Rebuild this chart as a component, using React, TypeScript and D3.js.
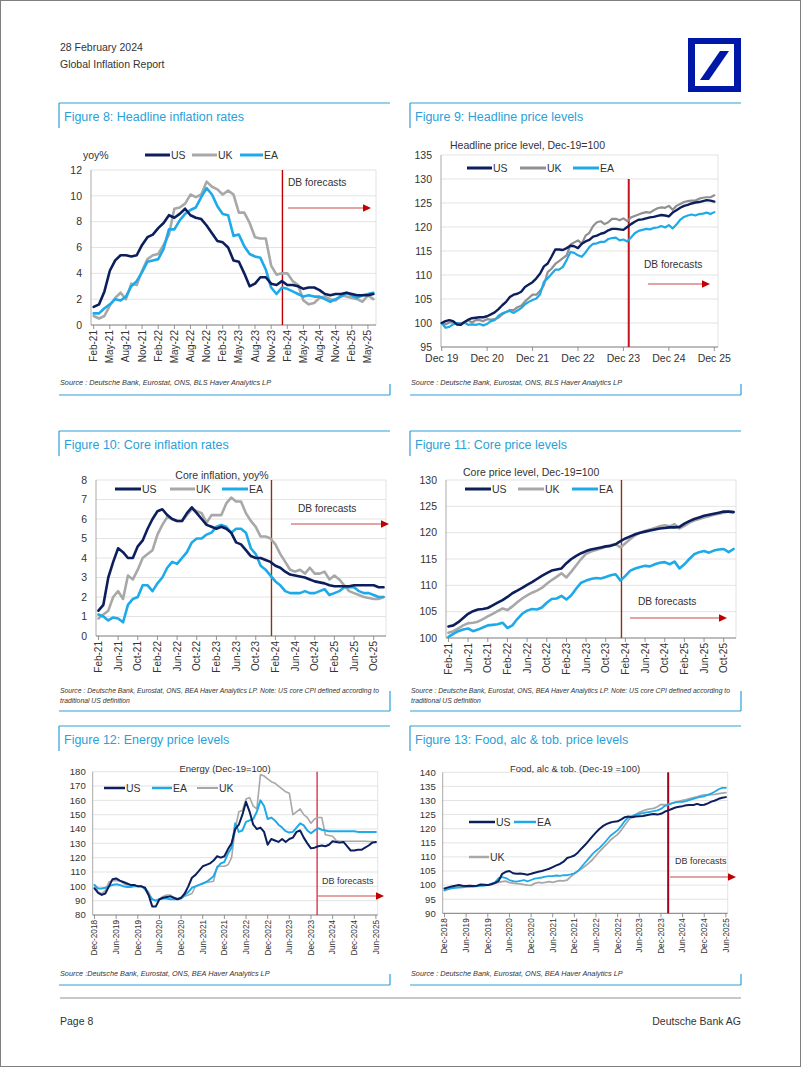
import React from 'react';
import * as d3 from 'd3';

// ---------- categories ----------
const MON = ['Jan', 'Feb', 'Mar', 'Apr', 'May', 'Jun', 'Jul', 'Aug', 'Sep', 'Oct', 'Nov', 'Dec'];
function months(year: number, month: number, n: number, fmt: (m: string, y: number) => string): string[] {
  const out: string[] = [];
  for (let i = 0; i < n; i++) {
    const mm = (month + i) % 12;
    const yy = year + Math.floor((month + i) / 12);
    out.push(fmt(MON[mm], yy));
  }
  return out;
}
const fmtShort = (m: string, y: number) => `${m}-${String(y % 100).padStart(2, '0')}`;
const fmtSpace = (m: string, y: number) => `${m} ${String(y % 100).padStart(2, '0')}`;
const fmtLong = (m: string, y: number) => `${m}-${y}`;

const CAT_8 = months(2021, 1, 53, fmtShort); // Feb-21 .. Jun-25
const TICKS_8 = CAT_8.filter((_, i) => i % 3 === 0);
const CAT_9 = months(2019, 11, 73, fmtSpace); // Dec 19 .. Dec 25
const TICKS_9 = CAT_9.filter((_, i) => i % 12 === 0);
const CAT_10 = months(2021, 1, 59, fmtShort); // Feb-21 .. Dec-25
const TICKS_10 = CAT_10.filter((_, i) => i % 4 === 0);
const CAT_12 = months(2018, 11, 79, fmtLong); // Dec-2018 .. Jun-2025
const TICKS_12 = CAT_12.filter((_, i) => i % 6 === 0);

// ---------- Figure 8: headline inflation, yoy% ----------
const US_8 = [1.4,1.6,2.6,4.2,5.0,5.4,5.4,5.3,5.4,6.2,6.8,7.0,7.5,7.9,8.5,8.3,8.6,9.0,8.5,8.3,8.2,7.7,7.1,6.5,6.4,6.0,5.0,4.9,4.0,3.0,3.2,3.7,3.7,3.2,3.1,3.4,3.1,3.1,3.0,2.8,2.9,2.9,2.7,2.4,2.3,2.4,2.4,2.5,2.4,2.3,2.3,2.3,2.4];
const UK_8 = [0.7,0.5,0.7,1.5,2.1,2.5,2.0,3.2,3.1,4.2,5.1,5.4,5.5,6.2,7.0,9.0,9.1,9.4,10.1,9.9,10.1,11.1,10.7,10.5,10.1,10.4,10.1,8.7,8.7,7.9,6.8,6.7,6.7,4.6,3.9,4.0,4.0,3.4,3.1,1.9,1.6,1.7,2.1,2.2,2.0,1.9,2.3,2.2,2.1,2.0,1.8,2.3,2.0];
const EA_8 = [0.9,0.9,1.3,1.6,2.0,1.9,2.2,3.0,3.4,4.1,4.9,5.0,5.1,5.9,7.4,7.4,8.1,8.6,8.9,9.1,9.9,10.6,10.1,9.2,8.6,8.5,6.9,7.0,6.1,5.5,5.3,5.2,4.3,2.9,2.4,2.9,2.8,2.6,2.4,2.2,2.3,2.2,2.2,2.0,1.8,2.0,2.2,2.5,2.3,2.1,2.3,2.4,2.5];
const Y_TICKS_8 = [0, 2, 4, 6, 8, 10, 12];

// ---------- Figure 9: headline price level ----------
const US_9 = [100.0,
  100.4,100.6,100.4,99.7,99.6,100.2,100.7,101.0,101.1,101.2,101.2,101.4,
  101.8,102.2,102.9,103.7,104.4,105.4,105.9,106.1,106.5,107.5,108.0,108.5,
  109.3,110.3,111.8,112.4,113.8,115.3,115.3,115.2,115.6,116.1,116.0,115.6,
  116.5,117.0,117.3,118.0,118.2,118.6,118.8,119.3,119.6,119.6,119.5,119.4,
  120.0,120.6,121.1,121.5,121.6,121.8,122.0,122.1,122.3,122.5,122.4,122.2,
  123.0,123.5,124.0,124.4,124.6,124.9,125.1,125.2,125.4,125.6,125.5,125.3];
const UK_9 = [100.0,
  99.7,100.1,100.1,100.0,100.0,100.1,100.6,100.1,100.6,100.6,100.4,100.8,
  100.7,100.8,101.1,101.8,102.3,102.7,102.7,103.3,103.6,104.5,105.2,105.9,
  105.9,106.7,107.9,110.6,111.3,112.3,112.9,113.5,114.1,116.3,116.8,117.2,
  116.5,118.2,118.8,120.2,121.0,121.2,120.6,121.0,121.7,121.7,121.4,121.8,
  121.2,122.0,122.3,122.6,122.9,123.1,123.0,123.5,123.9,124.1,124.0,124.4,
  123.6,124.4,124.8,125.2,125.4,125.5,125.5,125.9,126.1,126.2,126.2,126.6];
const EA_9 = [100.0,
  99.0,99.2,99.7,100.0,99.8,100.1,99.6,99.7,99.6,99.8,99.5,99.8,
  100.4,100.6,101.5,102.0,102.3,102.5,102.1,102.6,103.1,103.9,104.4,104.8,
  105.1,106.0,108.6,109.3,110.2,111.1,111.1,111.7,113.1,114.8,114.6,114.1,
  113.8,114.7,115.8,116.5,116.6,116.9,116.9,117.5,117.7,117.8,117.2,117.4,
  117.0,117.8,118.7,119.2,119.4,119.6,119.5,119.8,119.9,120.2,119.9,120.4,
  119.7,120.5,121.5,122.1,122.4,122.6,122.4,122.7,122.8,123.0,122.7,123.1];
const Y_TICKS_9 = [95, 100, 105, 110, 115, 120, 125, 130, 135];

// ---------- Figure 10: core inflation, yoy% ----------
const US_10 = [1.3,1.6,3.0,3.8,4.5,4.3,4.0,4.0,4.6,4.9,5.5,6.0,6.4,6.5,6.2,6.0,5.9,5.9,6.3,6.6,6.3,6.0,5.7,5.6,5.5,5.6,5.5,5.3,4.8,4.7,4.4,4.1,4.0,4.0,3.9,3.8,3.6,3.5,3.3,3.15,3.1,3.05,3.0,2.9,2.8,2.75,2.7,2.6,2.55,2.55,2.55,2.55,2.6,2.6,2.6,2.6,2.6,2.5,2.5];
const UK_10 = [0.9,1.1,1.3,2.0,2.3,1.9,3.1,2.9,3.4,4.0,4.2,4.4,5.2,5.7,6.1,6.0,5.9,5.9,6.2,6.5,6.4,6.3,5.8,6.2,6.2,6.2,6.8,7.1,6.9,6.9,6.3,5.9,5.6,5.1,5.1,5.0,4.7,4.2,3.8,3.4,3.3,3.4,3.2,3.5,3.2,3.2,3.3,2.9,3.1,2.9,2.6,2.3,2.2,2.1,2.0,1.95,1.9,1.9,2.0];
const EA_10 = [1.1,1.0,0.8,0.95,0.9,0.7,1.6,1.9,2.0,2.6,2.6,2.3,2.7,3.0,3.5,3.8,3.7,4.0,4.3,4.8,5.0,5.0,5.2,5.3,5.6,5.7,5.6,5.3,5.5,5.5,5.3,4.5,4.2,3.6,3.4,3.1,2.8,2.6,2.3,2.2,2.2,2.2,2.3,2.2,2.2,2.3,2.4,2.1,2.2,2.3,2.5,2.5,2.5,2.3,2.2,2.2,2.1,2.0,2.0];
const Y_TICKS_10 = [0, 1, 2, 3, 4, 5, 6, 7, 8];

// ---------- Figure 11: core price level ----------
const US_11 = [102.2,102.4,103.0,103.8,104.6,105.1,105.4,105.5,105.7,106.2,106.7,107.2,107.8,108.5,109.0,109.5,110.1,110.6,111.2,111.8,112.3,112.8,113.0,113.2,114.2,115.0,115.6,116.1,116.5,116.8,117.0,117.2,117.4,117.5,117.8,118.4,118.9,119.3,119.7,120.0,120.2,120.4,120.6,120.8,120.9,121.0,121.0,121.1,121.7,122.2,122.6,122.9,123.2,123.4,123.6,123.8,124.0,124.0,123.9];
const UK_11 = [101.0,101.3,101.8,102.4,102.8,102.9,103.1,103.6,104.1,104.6,105.1,105.6,105.3,106.0,106.8,107.5,108.1,108.6,109.0,109.5,110.3,111.0,111.6,112.3,111.5,112.6,113.8,115.0,116.0,116.4,116.7,117.0,117.3,117.6,117.8,117.2,118.0,118.8,119.5,120.0,120.3,120.6,120.9,121.2,121.4,121.2,121.6,120.8,121.3,121.9,122.3,122.6,122.9,123.1,123.4,123.6,123.8,124.0,123.9];
const EA_11 = [100.2,100.8,101.3,101.6,101.8,101.3,101.6,102.0,102.4,102.5,102.6,102.9,101.9,102.4,103.6,104.6,105.2,105.5,105.4,105.8,106.7,107.4,107.5,108.0,107.3,108.1,109.4,110.5,110.9,111.2,111.4,111.3,111.6,111.9,112.1,110.9,111.8,112.8,113.2,113.5,113.7,113.6,114.0,114.3,114.4,114.0,114.5,113.2,114.0,115.0,115.9,116.3,116.5,116.2,116.6,116.8,116.9,116.3,116.9];
const Y_TICKS_11 = [100, 105, 110, 115, 120, 125, 130];

// ---------- Figure 12: energy price levels ----------
const US_12 = [98.6,95.5,94,95,100,105,105.5,104,103,102,101,101,100,100,99,94,86,86,91,92,92.5,93,92,91,92,95,100,106,108,111,114,115,116,118,121,120,121,126,130,140,143,150,159,152,143,140,141,138,129,133,132,131,133,131,133,134,138,139,134,130,126.5,127,128,128.5,128,129,131.5,131,130.5,131,128,125,125,125.5,125.5,127,128.5,130.5,131];
const EA_12 = [101,98.5,98.5,99,100,101,101.5,101,100,99.5,99.5,100,100,100,98,94,91,90,91,91.5,91.5,91,91,91,91.5,94,96,99,100,101,102,103,105,107,113,116,117,123,127,144,138,139,145,146,147,152,160,156,147,148,146,143,141,138.5,137.5,138,141,144,142.5,139,137,139,140.5,139.5,139,138.5,138.5,138.5,138.5,138.5,138.5,138.5,138.5,138,138,138,138,138,138];
const UK_12 = [101,96,95,97,103,104,104,104,102,101,101,101,100,100,99,96,91,90,91,93,94,94,92,91.5,92,93,94,95,100,101,102,103,103,103.5,114,114,114,115,120,140,152,153,161,162,156,154,178,177,175,173,172,170,168,166,165,150,152,154,150,148,144,147,148,148,136,135.5,135,132,131.5,131.5,131.5,131.5,131.5,131.5,131.5,131.5,131.3,131.2,131];
const Y_TICKS_12 = [80, 90, 100, 110, 120, 130, 140, 150, 160, 170, 180];

// ---------- Figure 13: food, alcohol & tobacco price levels ----------
const US_13 = [98.8,99.2,99.5,99.8,100.0,99.8,99.7,99.8,99.7,99.8,100.2,100.1,100.0,100.3,100.8,101.5,104.0,104.7,105.0,104.2,104.0,104.1,103.9,103.7,104.0,104.4,104.7,105.0,105.4,105.8,106.4,107.0,107.5,108.3,109.6,110.0,110.5,111.6,113.0,114.3,115.8,117.3,118.7,120.0,121.0,121.7,122.2,122.5,122.6,123.3,124.1,124.3,124.1,124.3,124.4,124.5,124.8,125.0,125.2,125.0,125.3,126.0,126.5,127.0,127.5,127.8,128.0,128.3,128.4,128.4,128.8,128.4,128.5,129.0,129.6,130.0,130.6,131.0,131.2];
const EA_13 = [98.2,98.6,98.8,99.0,99.1,99.2,99.4,99.5,99.6,99.6,99.7,99.8,100.0,100.5,101.0,102.5,102.8,102.5,101.8,101.4,101.2,101.5,101.8,101.3,101.8,102.3,102.5,102.7,103.0,103.2,103.2,103.4,103.3,103.5,103.5,103.8,104.2,105.0,106.5,108.0,109.5,111.0,112.2,113.2,114.5,116.0,117.5,118.5,119.5,121.0,122.8,124.0,124.5,125.0,125.3,125.5,125.8,126.0,126.2,126.5,127.0,128.0,128.5,129.0,129.3,129.5,129.5,129.8,130.2,130.6,131.0,131.3,131.5,132.0,132.5,133.2,134.0,134.5,134.5];
const UK_13 = [98.0,98.6,99.0,99.2,99.4,99.4,99.6,99.6,99.5,99.7,99.8,99.9,100.0,100.3,100.6,101.0,101.2,101.4,100.9,100.7,100.5,100.4,100.2,100.0,99.9,100.6,101.0,100.8,101.0,101.2,101.0,101.3,101.6,101.5,101.8,103.0,104.0,105.0,105.8,106.8,107.8,109.0,110.5,112.0,113.3,114.5,116.0,117.0,118.0,119.5,121.3,123.0,124.3,125.0,125.8,126.3,126.8,127.0,127.2,127.8,128.6,128.4,128.6,129.0,129.4,129.7,130.0,130.3,130.7,131.0,131.3,131.7,132.0,132.0,132.1,132.2,132.4,132.6,132.8];
const Y_TICKS_13 = [90, 95, 100, 105, 110, 115, 120, 125, 130, 135, 140];

// ---------- styles ----------
const FONT = '"Liberation Sans", Arial, Helvetica, sans-serif';
const NAVY = '#0c1f5c';
const GREY = '#a8a8a8';
const GREY_DARK = '#909090';
const CYAN = '#1eaae9';
const TITLE_BLUE = '#2a9fd8';
const TEXT = '#333333';
const GRID = '#dcdcdc';

type Series = { name: string; values: number[]; color: string; width: number };
type ChartCfg = {
  cats: string[];
  ticks: string[];
  mode: 'band' | 'point';
  left: number;
  right: number;
  top: number;
  bottom: number;
  pointRange?: [number, number];
  yDomain: [number, number];
  yTicks: number[];
  series: Series[];
  rotate: boolean;
  xFont: number;
  yFont: number;
  yGap: number;
  vline: { cat: string; offset: number; color: string; width: number; fromValue?: number };
};

function Chart({ cfg }: { cfg: ChartCfg }) {
  const { cats, ticks, mode, left, right, top, bottom, yDomain, yTicks, series, rotate, xFont, yFont, yGap, vline } = cfg;
  let xPos: (c: string) => number;
  let step: number;
  if (mode === 'band') {
    const b = d3.scaleBand<string>().domain(cats).range([left, right]).padding(0);
    step = b.bandwidth();
    xPos = (c) => (b(c) as number) + step / 2;
  } else {
    const p = d3.scalePoint<string>().domain(cats).range(cfg.pointRange as [number, number]).padding(0);
    step = p.step();
    xPos = (c) => p(c) as number;
  }
  const y = d3.scaleLinear().domain(yDomain).range([bottom, top]);
  const line = d3.line<number>().x((_, i) => xPos(cats[i])).y((v) => y(v));
  const vx = xPos(vline.cat) + vline.offset * step;
  const vTop = vline.fromValue !== undefined ? y(vline.fromValue) : top;
  return (
    <g>
      {yTicks.slice(1).map((t) => (
        <line key={'g' + t} x1={left} x2={right} y1={y(t)} y2={y(t)} stroke={GRID} strokeWidth={0.8} />
      ))}
      <line x1={right} x2={right} y1={top} y2={bottom} stroke={GRID} strokeWidth={0.8} />
      <line x1={left} x2={left} y1={top} y2={bottom} stroke="#a0a0a0" strokeWidth={0.9} />
      <line x1={left} x2={right} y1={bottom} y2={bottom} stroke="#7a7a7a" strokeWidth={1} />
      {ticks.map((c) => (
        <line key={'t' + c} x1={xPos(c)} x2={xPos(c)} y1={bottom} y2={bottom + 4} stroke="#7a7a7a" strokeWidth={0.8} />
      ))}
      {yTicks.map((t) => (
        <text key={'y' + t} x={left - yGap} y={y(t)} dy="0.35em" textAnchor="end" fontSize={yFont} fill={TEXT}>
          {t}
        </text>
      ))}
      {ticks.map((c) =>
        rotate ? (
          <text
            key={'x' + c}
            transform={`translate(${xPos(c)},${bottom + 5}) rotate(-90)`}
            dy="0.35em"
            textAnchor="end"
            fontSize={xFont}
            fill={TEXT}
          >
            {c}
          </text>
        ) : (
          <text key={'x' + c} x={xPos(c)} y={bottom + 15} textAnchor="middle" fontSize={xFont} fill={TEXT}>
            {c}
          </text>
        )
      )}
      <line x1={vx} x2={vx} y1={vTop} y2={bottom} stroke={vline.color} strokeWidth={vline.width} />
      {series.map((s) => (
        <path
          key={s.name}
          d={line(s.values) as string}
          fill="none"
          stroke={s.color}
          strokeWidth={s.width}
          strokeLinejoin="round"
          strokeLinecap="round"
        />
      ))}
    </g>
  );
}

function Legend({ items }: { items: { label: string; color: string; x: number; y: number; len: number; w?: number }[] }) {
  return (
    <g>
      {items.map((it) => (
        <g key={it.label}>
          <line x1={it.x} x2={it.x + it.len} y1={it.y} y2={it.y} stroke={it.color} strokeWidth={it.w ?? 3} />
          <text x={it.x + it.len + 1} y={it.y} dy="0.36em" fontSize={10.5} fill={TEXT}>
            {it.label}
          </text>
        </g>
      ))}
    </g>
  );
}

function Forecast({ tx, ty, ax0, ax1, ay, size }: { tx: number; ty: number; ax0: number; ax1: number; ay: number; size: number }) {
  return (
    <g>
      <text x={tx} y={ty} dy="0.35em" fontSize={size} fill={TEXT}>
        DB forecasts
      </text>
      <line x1={ax0} x2={ax1 - 6} y1={ay} y2={ay} stroke="#c94a4a" strokeWidth={1.1} />
      <polygon points={`${ax1},${ay} ${ax1 - 8},${ay - 3.8} ${ax1 - 8},${ay + 3.8}`} fill="#c00000" />
    </g>
  );
}

function Frame({ x0, x1, top, bottom, title, sources, srcY, srcSize }: { x0: number; x1: number; top: number; bottom: number; title: string; sources: string[]; srcY: number; srcSize: number }) {
  return (
    <g>
      <line x1={x0} x2={x1} y1={top} y2={top} stroke={TITLE_BLUE} strokeWidth={1.2} />
      <line x1={x0} x2={x0} y1={top} y2={top + 25} stroke={TITLE_BLUE} strokeWidth={1.2} />
      <text x={x0 + 5} y={top + 18} fontSize={12.5} fill={TITLE_BLUE}>
        {title}
      </text>
      {sources.map((s, i) => (
        <text key={i} x={x0 + 1} y={srcY + i * 9.5} fontSize={srcSize} fontStyle="italic" fill={TEXT}>
          {s}
        </text>
      ))}
      <line x1={x0} x2={x1} y1={bottom} y2={bottom} stroke={TITLE_BLUE} strokeWidth={1} />
      <line x1={x1} x2={x1} y1={bottom - (sources.length > 1 ? 20 : 11)} y2={bottom} stroke={TITLE_BLUE} strokeWidth={1.2} />
    </g>
  );
}

const SRC_A = 'Source : Deutsche Bank, Eurostat, ONS, BLS Haver Analytics LP';
const SRC_B1 = 'Source : Deutsche Bank, Eurostat, ONS, BEA Haver Analytics LP. Note: US core CPI defined according to';
const SRC_B2 = 'traditional US definition';

export default function App() {
  const fig8: ChartCfg = {
    cats: CAT_8, ticks: TICKS_8, mode: 'band', left: 91, right: 376, top: 170, bottom: 325,
    yDomain: [0, 12], yTicks: Y_TICKS_8, rotate: true, xFont: 10, yFont: 10.5, yGap: 9,
    series: [
      { name: 'UK', values: UK_8, color: GREY, width: 2.6 },
      { name: 'EA', values: EA_8, color: CYAN, width: 2.6 },
      { name: 'US', values: US_8, color: NAVY, width: 2.6 },
    ],
    vline: { cat: 'Jan-24', offset: 0.1, color: '#c00000', width: 1.4 },
  };
  const fig9: ChartCfg = {
    cats: CAT_9, ticks: TICKS_9, mode: 'point', left: 441, right: 718, top: 155, bottom: 347,
    pointRange: [441.7, 714.3],
    yDomain: [95, 135], yTicks: Y_TICKS_9, rotate: false, xFont: 10.5, yFont: 10.5, yGap: 9,
    series: [
      { name: 'UK', values: UK_9, color: GREY_DARK, width: 2.2 },
      { name: 'EA', values: EA_9, color: CYAN, width: 2.2 },
      { name: 'US', values: US_9, color: NAVY, width: 2.4 },
    ],
    vline: { cat: 'Jan 24', offset: 0.4, color: '#c0141e', width: 2, fromValue: 130 },
  };
  const fig10: ChartCfg = {
    cats: CAT_10, ticks: TICKS_10, mode: 'band', left: 96, right: 386, top: 480, bottom: 636,
    yDomain: [0, 8], yTicks: Y_TICKS_10, rotate: true, xFont: 10, yFont: 10.5, yGap: 9,
    series: [
      { name: 'UK', values: UK_10, color: GREY, width: 2.6 },
      { name: 'EA', values: EA_10, color: CYAN, width: 2.6 },
      { name: 'US', values: US_10, color: NAVY, width: 2.6 },
    ],
    vline: { cat: 'Jan-24', offset: 0.2, color: '#8a3512', width: 1.4 },
  };
  const fig11: ChartCfg = {
    cats: CAT_10, ticks: TICKS_10, mode: 'band', left: 446, right: 736, top: 480, bottom: 638,
    yDomain: [100, 130], yTicks: Y_TICKS_11, rotate: true, xFont: 10, yFont: 10.5, yGap: 9,
    series: [
      { name: 'UK', values: UK_11, color: GREY, width: 2.6 },
      { name: 'EA', values: EA_11, color: CYAN, width: 2.6 },
      { name: 'US', values: US_11, color: NAVY, width: 2.6 },
    ],
    vline: { cat: 'Jan-24', offset: 0.2, color: '#8a3512', width: 1.4 },
  };
  const fig12: ChartCfg = {
    cats: CAT_12, ticks: TICKS_12, mode: 'band', left: 92.7, right: 377.7, top: 771.7, bottom: 915,
    yDomain: [80, 180], yTicks: Y_TICKS_12, rotate: true, xFont: 8.2, yFont: 9.5, yGap: 7,
    series: [
      { name: 'UK', values: UK_12, color: GREY, width: 1.6 },
      { name: 'EA', values: EA_12, color: CYAN, width: 2 },
      { name: 'US', values: US_12, color: NAVY, width: 2 },
    ],
    vline: { cat: 'Feb-2024', offset: -0.3, color: '#d0021b', width: 1.1 },
  };
  const fig13: ChartCfg = {
    cats: CAT_12, ticks: TICKS_12, mode: 'band', left: 442.7, right: 727.7, top: 772.3, bottom: 913.3,
    yDomain: [90, 140], yTicks: Y_TICKS_13, rotate: true, xFont: 8.2, yFont: 9.5, yGap: 7,
    series: [
      { name: 'UK', values: UK_13, color: GREY, width: 1.8 },
      { name: 'EA', values: EA_13, color: CYAN, width: 1.8 },
      { name: 'US', values: US_13, color: NAVY, width: 2 },
    ],
    vline: { cat: 'Feb-2024', offset: 0, color: '#a3001b', width: 2 },
  };

  return (
    <svg
      width={802}
      height={1068}
      viewBox="0 0 802 1068"
      style={{ position: 'absolute', left: 0, top: 0, background: '#fff' }}
      fontFamily={FONT}
    >
      <rect x={0} y={0} width={802} height={1068} fill="#fff" />
      <rect x={0.5} y={0.5} width={800} height={1066} fill="none" stroke="#7f7f7f" strokeWidth={1} />

      {/* header */}
      <text x={60} y={51} fontSize={10.5} fill={TEXT}>28 February 2024</text>
      <text x={60} y={68} fontSize={10.5} fill={TEXT}>Global Inflation Report</text>
      <rect x={688} y={38} width={53} height={54} fill="#0018a8" />
      <rect x={695} y={44} width={39} height={42} fill="#fff" />
      <polygon points="700,80 709,80 729,51 720,51" fill="#0018a8" />

      {/* frames */}
      <Frame x0={59} x1={390} top={103} bottom={395} title="Figure 8: Headline inflation rates" sources={[SRC_A]} srcY={385} srcSize={7.3} />
      <Frame x0={410} x1={741} top={103} bottom={395} title="Figure 9: Headline price levels" sources={[SRC_A]} srcY={385} srcSize={7.3} />
      <Frame x0={59} x1={390} top={431} bottom={711} title="Figure 10: Core inflation rates" sources={[SRC_B1, SRC_B2]} srcY={693} srcSize={6.8} />
      <Frame x0={410} x1={741} top={431} bottom={711} title="Figure 11: Core price levels" sources={[SRC_B1, SRC_B2]} srcY={693} srcSize={6.8} />
      <Frame x0={59} x1={390} top={726} bottom={985} title="Figure 12: Energy price levels" sources={['Source :Deutsche Bank, Eurostat, ONS, BEA Haver Analytics LP']} srcY={976} srcSize={7.3} />
      <Frame x0={410} x1={741} top={726} bottom={985} title="Figure 13: Food, alc & tob. price levels" sources={['Source : Deutsche Bank, Eurostat, ONS, BEA Haver Analytics LP']} srcY={976} srcSize={7.3} />

      {/* Figure 8 */}
      <Chart cfg={fig8} />
      <text x={83} y={155} dy="0.35em" fontSize={10.5} fill={TEXT}>yoy%</text>
      <Legend items={[
        { label: 'US', color: NAVY, x: 145, y: 155, len: 25 },
        { label: 'UK', color: GREY, x: 192, y: 155, len: 25 },
        { label: 'EA', color: CYAN, x: 240, y: 155, len: 23 },
      ]} />
      <Forecast tx={288} ty={182} ax0={288} ax1={371} ay={208} size={10.2} />

      {/* Figure 9 */}
      <Chart cfg={fig9} />
      <text x={450} y={145} dy="0.35em" fontSize={10.5} fill={TEXT}>Headline price level, Dec-19=100</text>
      <Legend items={[
        { label: 'US', color: NAVY, x: 467, y: 168, len: 25 },
        { label: 'UK', color: GREY_DARK, x: 520, y: 168, len: 26 },
        { label: 'EA', color: CYAN, x: 573, y: 168, len: 26 },
      ]} />
      <Forecast tx={644} ty={264} ax0={648} ax1={710} ay={284} size={10.2} />

      {/* Figure 10 */}
      <Chart cfg={fig10} />
      <text x={222} y={475} dy="0.35em" textAnchor="middle" fontSize={10.5} fill={TEXT}>Core inflation, yoy%</text>
      <Legend items={[
        { label: 'US', color: NAVY, x: 115, y: 489, len: 26 },
        { label: 'UK', color: GREY, x: 170, y: 489, len: 25 },
        { label: 'EA', color: CYAN, x: 222, y: 489, len: 26 },
      ]} />
      <Forecast tx={298} ty={508} ax0={291} ax1={389} ay={524} size={10.2} />

      {/* Figure 11 */}
      <Chart cfg={fig11} />
      <text x={463} y={472} dy="0.35em" fontSize={10.5} fill={TEXT}>Core price level, Dec-19=100</text>
      <Legend items={[
        { label: 'US', color: NAVY, x: 465, y: 489, len: 26 },
        { label: 'UK', color: GREY, x: 518, y: 489, len: 26 },
        { label: 'EA', color: CYAN, x: 572, y: 489, len: 26 },
      ]} />
      <Forecast tx={638} ty={601} ax0={630} ax1={727} ay={618} size={10.2} />

      {/* Figure 12 */}
      <Chart cfg={fig12} />
      <text x={225} y={769} dy="0.35em" textAnchor="middle" fontSize={9.5} fill={TEXT}>Energy (Dec-19=100)</text>
      <Legend items={[
        { label: 'US', color: NAVY, x: 104, y: 788, len: 21, w: 2.5 },
        { label: 'EA', color: CYAN, x: 152, y: 788, len: 20, w: 2.5 },
        { label: 'UK', color: GREY, x: 197, y: 788, len: 21, w: 2 },
      ]} />
      <Forecast tx={322} ty={881} ax0={318} ax1={384} ay={896} size={9} />

      {/* Figure 13 */}
      <Chart cfg={fig13} />
      <text x={575} y={769} dy="0.35em" textAnchor="middle" fontSize={9.5} fill={TEXT}>Food, alc &amp; tob. (Dec-19 =100)</text>
      <Legend items={[
        { label: 'US', color: NAVY, x: 469, y: 822, len: 26, w: 2.5 },
        { label: 'EA', color: CYAN, x: 514, y: 822, len: 22, w: 2.5 },
        { label: 'UK', color: GREY, x: 469, y: 857, len: 20, w: 2.5 },
      ]} />
      <Forecast tx={675} ty={861} ax0={670} ax1={736} ay={877} size={9} />

      {/* footer */}
      <line x1={60} x2={741} y1={998} y2={998} stroke="#c8c8c8" strokeWidth={2} />
      <text x={60} y={1025} fontSize={10.5} fill={TEXT}>Page 8</text>
      <text x={741} y={1025} textAnchor="end" fontSize={10.5} fill={TEXT}>Deutsche Bank AG</text>
    </svg>
  );
}
